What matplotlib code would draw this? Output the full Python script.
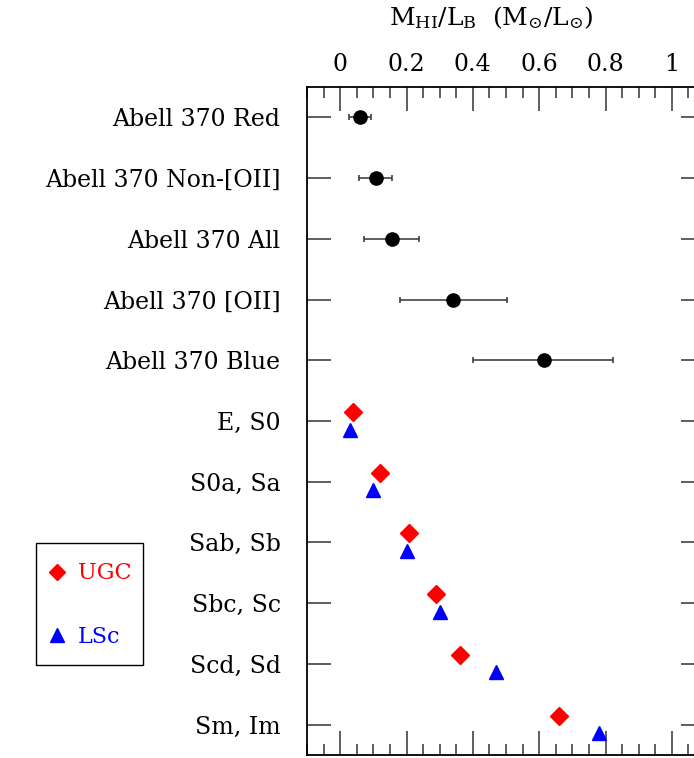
import matplotlib
matplotlib.use("Agg")
import matplotlib.pyplot as plt
from matplotlib.patches import Rectangle
from matplotlib.ticker import MultipleLocator
import numpy as np

plt.rcParams["font.family"] = "DejaVu Serif"
plt.rcParams["mathtext.fontset"] = "dejavuserif"

# Abell 370 samples: M_HI/L_B with error ranges
abell_labels = ["Abell 370 Red", "Abell 370 Non-[OII]", "Abell 370 All",
                "Abell 370 [OII]", "Abell 370 Blue"]
abell_vals = [0.059, 0.107, 0.157, 0.341, 0.614]
abell_lo = [0.026, 0.056, 0.072, 0.181, 0.401]
abell_hi = [0.094, 0.155, 0.239, 0.502, 0.822]

# Morphological types: UGC and LSc samples
type_labels = ["E, S0", "S0a, Sa", "Sab, Sb", "Sbc, Sc", "Scd, Sd", "Sm, Im"]
ugc_vals = [0.040, 0.121, 0.209, 0.289, 0.360, 0.659]
lsc_vals = [0.030, 0.100, 0.200, 0.300, 0.470, 0.779]

labels = abell_labels + type_labels
rows = np.arange(1, len(labels) + 1)
abell_rows = rows[:len(abell_labels)]
type_rows = rows[len(abell_labels):]

fig = plt.figure(figsize=(6.94, 7.58), dpi=100)
ax = fig.add_axes([307 / 694, 3 / 758, 398 / 694, 668 / 758])

vals = np.array(abell_vals)
xerr = [vals - np.array(abell_lo), np.array(abell_hi) - vals]
ax.errorbar(vals, abell_rows, xerr=xerr, fmt="o", color="black", ecolor="#333333",
            elinewidth=1.1, capsize=2.5, capthick=1.1, markersize=9.5, zorder=3)

ugc = ax.plot(ugc_vals, type_rows - 0.15, "D", color="#ff0000", markersize=9.5,
              linestyle="none", label="UGC")[0]
lsc = ax.plot(lsc_vals, type_rows + 0.14, "^", color="#0000ff", markersize=10.5,
              linestyle="none", label="LSc")[0]

ax.set_xlim(-0.1, 1.1)
ax.set_ylim(len(labels) + 0.5, 0.5)
ax.set_yticks(rows)
ax.set_yticklabels(labels)
ax.xaxis.set_major_locator(MultipleLocator(0.2))
ax.xaxis.set_minor_locator(MultipleLocator(0.05))
ax.xaxis.set_major_formatter(lambda v, p: f"{v:g}")
ax.tick_params(axis="x", which="both", direction="in", top=True, bottom=True,
               labeltop=True, labelbottom=False, width=1.1, color="#333333",
               labelsize=17, pad=8)
ax.tick_params(axis="x", which="major", length=17)
ax.tick_params(axis="x", which="minor", length=8)
ax.tick_params(axis="y", which="both", direction="in", left=True, right=True,
               length=17, width=1.1, color="#333333", labelsize=17, pad=19)
ax.yaxis.set_minor_locator(plt.NullLocator())
for s in ax.spines.values():
    s.set_linewidth(1.3)

ax.xaxis.set_label_position("top")
ax.set_xlabel(r"$\mathregular{M_{HI}/L_B\ \ (M_{{\odot}}/L_{{\odot}})}$", fontsize=18,
              labelpad=20)
ax.xaxis.label.set_x(0.462)

# legend box drawn by hand so its padding can match
fig.add_artist(Rectangle((36 / 694, 1 - 665 / 758), 107 / 694, 122 / 758,
                         transform=fig.transFigure, fill=False, edgecolor="black",
                         linewidth=1.0))
fig.legend(handles=[ugc, lsc], loc="center", bbox_to_anchor=(89.5 / 694, 1 - 605 / 758),
           fontsize=16, labelcolor=["#ff0000", "#0000ff"], frameon=False,
           labelspacing=1.85, handlelength=0.8, handletextpad=0.55, borderpad=0,
           markerscale=0.9)

fig.savefig("out.png", dpi=100)
